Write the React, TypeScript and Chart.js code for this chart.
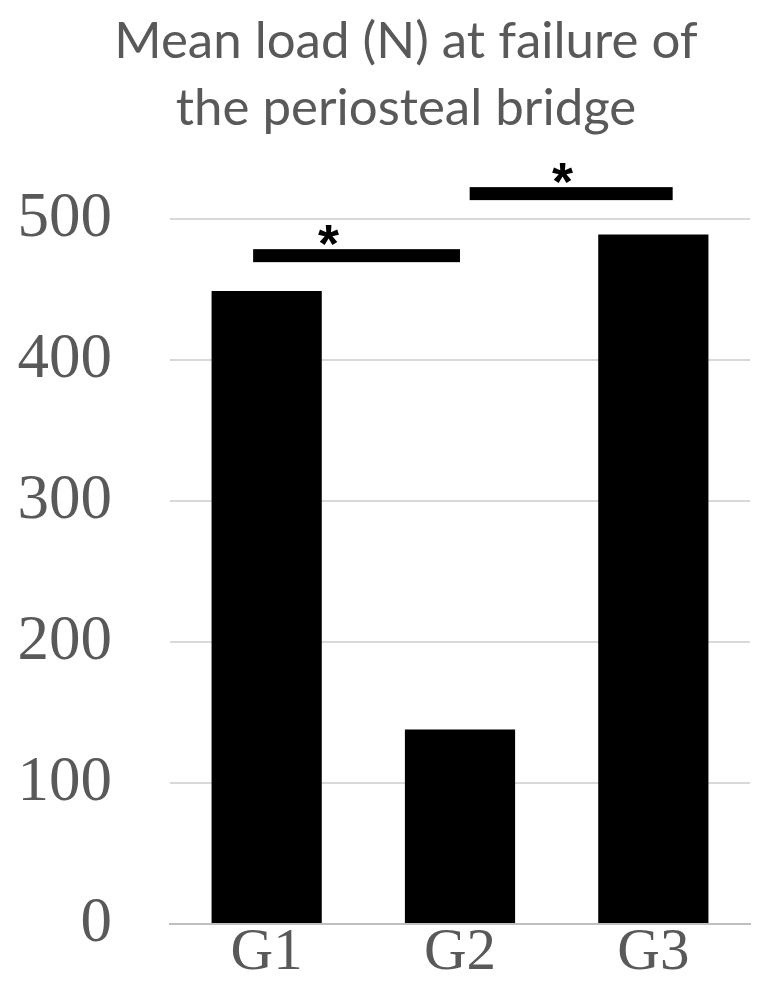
import React, { useEffect, useRef } from "react";
import { Chart, registerables } from "chart.js";

Chart.register(...registerables);

const categories = ["G1", "G2", "G3"];
const meanLoad = [449, 138, 489];
const yTicks = [0, 100, 200, 300, 400, 500];
const titleLines = ["Mean load (N) at failure of", "the periosteal bridge"];
// significance brackets: from/to in category index units, level in N
const sigFrom = [-0.07, 1.05];
const sigTo = [1.0, 2.1];
const sigLevel = [474, 518];
const sigLabel = ["*", "*"];
const sigLabelAt = [0.32, 1.53];

const titlePlugin = {
  id: "customTitle",
  afterDraw(chart: any) {
    const { ctx } = chart;
    ctx.save();
    ctx.fillStyle = "#595959";
    ctx.font = "51px Lato";
    ctx.textAlign = "center";
    ctx.textBaseline = "alphabetic";
    ctx.fillText(titleLines[0], 406, 58);
    ctx.fillText(titleLines[1], 406, 125);
    ctx.restore();
  },
};

const sigPlugin = {
  id: "sigBrackets",
  afterDatasetsDraw(chart: any) {
    const { ctx, scales } = chart;
    const x = scales.x;
    const y = scales.y;
    ctx.save();
    for (let i = 0; i < sigFrom.length; i++) {
      const x0 = x.getPixelForValue(sigFrom[i]);
      const x1 = x.getPixelForValue(sigTo[i]);
      const yc = y.getPixelForValue(sigLevel[i]);
      ctx.fillStyle = "#000";
      ctx.fillRect(x0, yc - 6.5, x1 - x0, 13);
      ctx.font = "bold 54px 'Liberation Sans'";
      ctx.textAlign = "center";
      ctx.textBaseline = "alphabetic";
      ctx.fillText(sigLabel[i], x.getPixelForValue(sigLabelAt[i]), yc + 6);
    }
    ctx.restore();
  },
};

export default function App() {
  const ref = useRef<HTMLCanvasElement>(null);
  useEffect(() => {
    document.body.style.margin = "0";
    const chart = new Chart(ref.current!, {
      type: "bar",
      data: {
        labels: categories,
        datasets: [
          {
            data: meanLoad,
            backgroundColor: "#000000",
            borderWidth: 0,
            barPercentage: 0.57,
            categoryPercentage: 1.0,
          },
        ],
      },
      options: {
        responsive: false,
        animation: false,
        layout: { padding: { left: 0, right: 18, top: 219, bottom: 0 } },
        plugins: {
          legend: { display: false },
          tooltip: { enabled: false },
          title: { display: false },
        },
        scales: {
          x: {
            grid: { display: false, drawTicks: false },
            border: { display: true, color: "#bfbfbf", width: 2 },
            ticks: {
              color: "#595959",
              font: { family: "Liberation Serif", size: 59 },
              padding: -6,
            },
            afterFit(scale: any) {
              scale.height = 71;
            },
          },
          y: {
            min: 0,
            max: 500,
            afterBuildTicks(scale: any) {
              scale.ticks = yTicks.map((v) => ({ value: v }));
            },
            grid: { color: "#d9d9d9", lineWidth: 2, drawTicks: false },
            border: { display: false },
            ticks: {
              color: "#595959",
              font: { family: "Liberation Serif", size: 63 },
              padding: 58,
            },
            afterFit(scale: any) {
              scale.width = 170;
              scale.paddingTop = 0;
              scale.paddingBottom = 0;
            },
          },
        },
      },
      plugins: [sigPlugin, titlePlugin],
    });
    return () => chart.destroy();
  }, []);
  return <canvas ref={ref} width={768} height={995} style={{ display: "block" }} />;
}
